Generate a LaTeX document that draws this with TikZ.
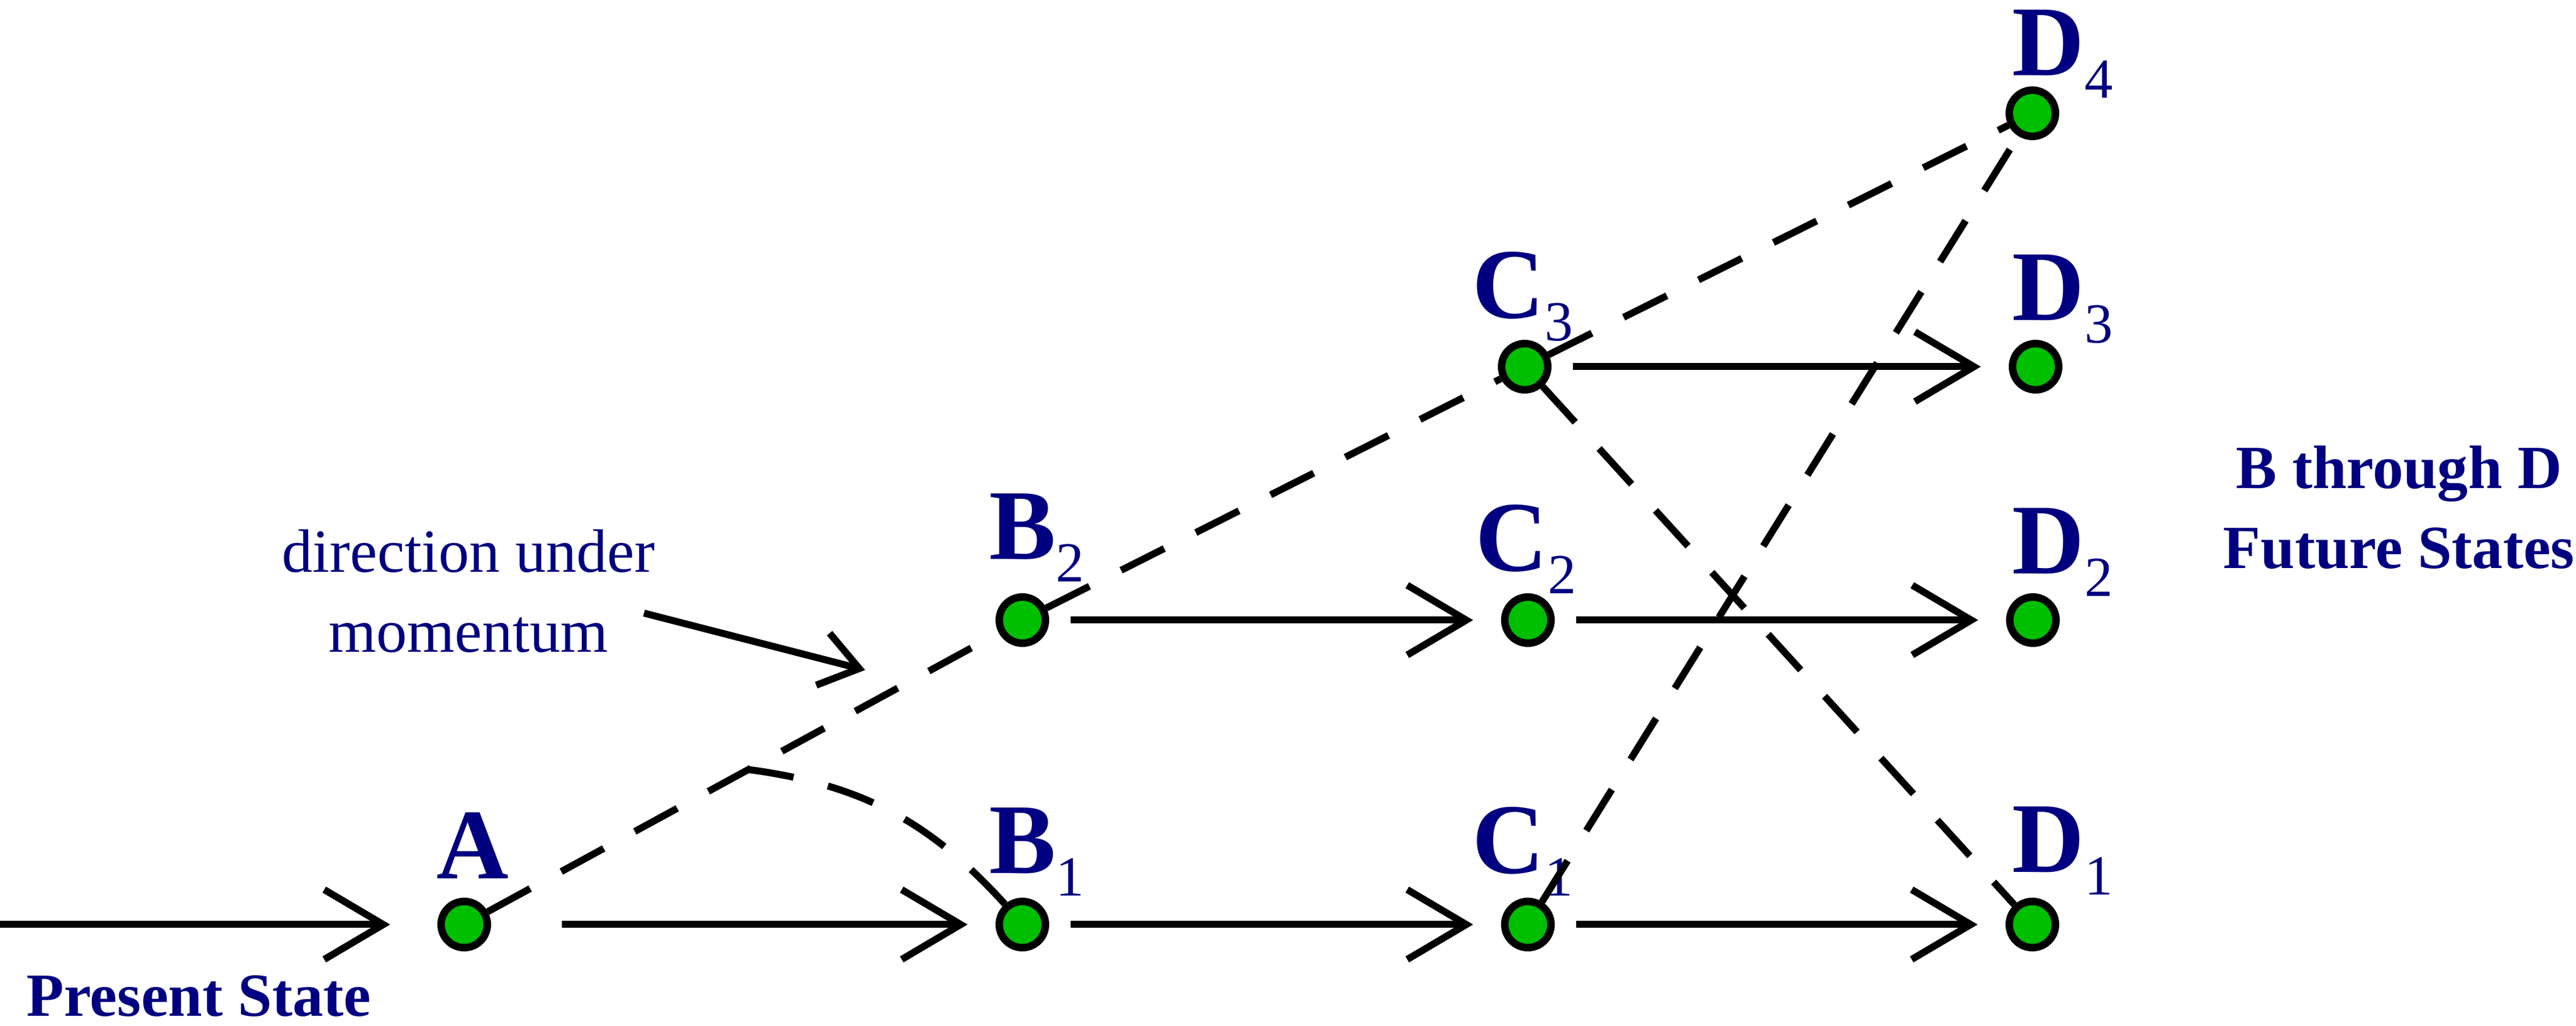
\documentclass[tikz,border=0pt]{standalone}
\usepackage{fontspec}
\setmainfont{Liberation Serif}
\usetikzlibrary{arrows.meta}
\definecolor{navy}{RGB}{0,0,128}
\definecolor{dotgreen}{RGB}{0,190,0}
\newcommand{\stlab}[2]{\textbf{#1}\raisebox{-0.42cm}{\fontsize{30}{30}\selectfont #2}}

\begin{document}
\begin{tikzpicture}[
  >={Straight Barb[length=1.1cm,width=1.3cm]}, line width=3.7pt,
  dot/.style={circle,draw=black,fill=dotgreen,line width=4pt,
    minimum size=0.86cm,inner sep=0pt},
  lbl/.style={anchor=base west,text=navy,inner sep=0pt,
    font=\fontsize{53}{53}\selectfont},
  txt/.style={text=navy,align=center,inner sep=0pt,
    font=\fontsize{32.5}{42.5}\selectfont},
  ttl/.style={txt,font=\fontsize{32.5}{42.5}\selectfont\bfseries},
  move/.style={->,shorten <=0.4cm,shorten >=0.52cm},
  alt/.style={dash pattern=on 0.9cm off 0.66cm}
]
\useasboundingbox (0,0) rectangle (48,19.11);

% states
\node[dot] (A)  at (8.65,1.89) {};
\node[dot] (B1) at (19.05,1.89) {};
\node[dot] (B2) at (19.05,7.56) {};
\node[dot] (C1) at (28.47,1.89) {};
\node[dot] (C2) at (28.47,7.56) {};
\node[dot] (C3) at (28.41,12.28) {};
\node[dot] (D1) at (37.87,1.89) {};
\node[dot] (D2) at (37.88,7.56) {};
\node[dot] (D3) at (37.93,12.28) {};
\node[dot] (D4) at (37.87,17.00) {};

% state labels
\node[lbl] (lA)  at (8.07,2.74) {\textbf{A}};
\node[lbl] (lB1) at (18.37,2.84) {\stlab{B}{1}};
\node[lbl] (lB2) at (18.37,8.69) {\stlab{B}{2}};
\node[lbl] (lC1) at (27.37,2.84) {\stlab{C}{1}};
\node[lbl] (lC2) at (27.43,8.47) {\stlab{C}{2}};
\node[lbl] (lC3) at (27.37,13.18) {\stlab{C}{3}};
\node[lbl] (lD1) at (37.43,2.86) {\stlab{D}{1}};
\node[lbl] (lD2) at (37.43,8.42) {\stlab{D}{2}};
\node[lbl] (lD3) at (37.43,13.14) {\stlab{D}{3}};
\node[lbl] (lD4) at (37.43,17.70) {\stlab{D}{4}};

% texts
\node[ttl,anchor=base west] (pres) at (0.43,0.18) {Present State};
\node[ttl] (fut) at (44.70,9.66) {B through D\\Future States};
\node[txt] (dir) at (8.73,8.10) {direction under\\momentum};

% solid moves
\coordinate (in) at (0,1.89);
\draw[->,shorten >=0.88cm] (in) -- (A);
\draw[move,shorten <=1.32cm] (A) -- (B1);
\draw[move] (B1) -- (C1);
\draw[move] (C1) -- (D1);
\draw[move] (B2) -- (C2);
\draw[move] (C2) -- (D2);
\draw[move] (C3) -- (D3);

% dashed moves
\draw[alt] (A) -- (B2);
\draw[alt] (B2) -- (C3);
\draw[alt] (C3) -- (D4);
\draw[alt] (C3) -- (D1);
\draw[alt] (C1) -- (D4);
\path (A) -- (B2) coordinate[pos=0.51] (back);
\draw[alt] (B1) to[bend right=20] (back);

% pointer
\coordinate (mfrom) at (12.00,7.69);
\coordinate (mto) at (16.12,6.63);
\draw[-{Straight Barb[length=0.7cm,width=1.0cm]}] (mfrom) -- (mto);

\end{tikzpicture}
\end{document}
